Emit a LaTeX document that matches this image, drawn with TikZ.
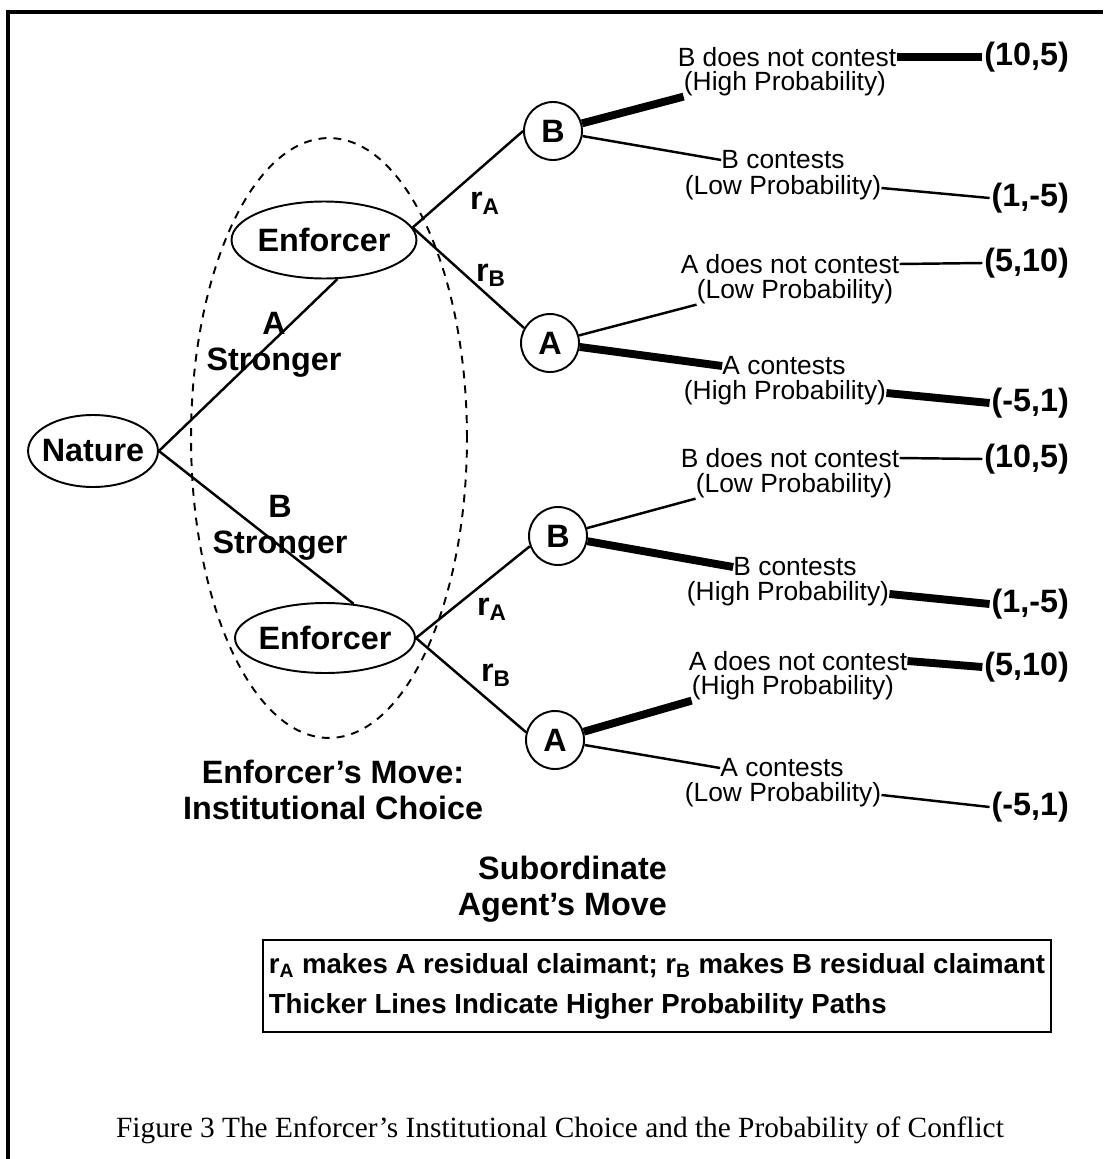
\documentclass[tikz,border=0pt]{standalone}
\usepackage{fontspec}
\setmainfont{Liberation Serif}
\setsansfont{Liberation Sans}
\usetikzlibrary{shapes.geometric}

\begin{document}
\begin{tikzpicture}[x=0.02cm, y=-0.02cm,
  every node/.style={font=\sffamily\bfseries\fontsize{18.4}{20.5}\selectfont},
  player/.style={draw, ellipse, line width=1.1pt, inner xsep=-3pt, inner ysep=0pt},
  agent/.style={draw, circle, line width=1.1pt, minimum size=1.16cm, inner sep=0pt},
  lab/.style={font=\sffamily\mdseries\fontsize{15}{17}\selectfont, inner sep=0pt},
  pay/.style={anchor=east, inner sep=1pt},
  edge/.style={line width=1.4pt},
  hi/.style={line width=4.5pt},
  lo/.style={line width=1.4pt}]
\useasboundingbox (0,0) rectangle (1103,1159);
\draw[line width=2.3pt] (8,1159) -- (8,12) -- (1103,12);

% the enforcer's information set
\draw[line width=1.1pt, dash pattern=on 4.5pt off 4pt] (329,438) ellipse [x radius=2.76cm, y radius=6cm];

\node[player, minimum width=2.54cm, minimum height=1.44cm] (nat) at (93,451) {Nature};
\node[player, minimum width=3.7cm, minimum height=1.54cm] (enfA) at (324,240) {Enforcer};
\node[player, minimum width=3.6cm, minimum height=1.4cm] (enfB) at (325,638) {Enforcer};
\draw[edge] (nat.east) -- (enfA.-71);
\draw[edge] (nat.east) -- (enfB.50);
\node[align=center] (strA) at (274,345) {A\\Stronger};
\node[align=center] (strB) at (280,528) {B\\Stronger};

% subordinate agents
\node[agent] (s1) at (553,131) {B};
\node[agent] (s2) at (550,343) {A};
\node[agent] (s3) at (558,536) {B};
\node[agent] (s4) at (555,740) {A};
\draw[edge] (enfA.8) -- (s1.west);
\draw[edge] (enfA.8) -- (s2.150);
\draw[edge] (enfB.east) -- (s3.200);
\draw[edge] (enfB.east) -- (s4.165);
\node (ra1) at (485,203) {r\textsubscript{A}};
\node (rb1) at (491,275) {r\textsubscript{B}};
\node (ra2) at (492,609) {r\textsubscript{A}};
\node (rb2) at (496,675) {r\textsubscript{B}};

% B, A stronger: r_A
\node[lab] (s1u1) at (787,57) {B does not contest};
\node[lab] (s1u2) at (785,84) {(High Probability)};
\node[lab] (s1d1) at (783,160) {B contests};
\node[lab] (s1d2) at (783,188) {(Low Probability)};
\node[pay] (s1pu) at (1071,57) {(10,5)};
\node[pay] (s1pd) at (1071,198) {(1,-5)};
\draw[hi] (s1) -- (s1u2.south west);
\draw[lo] (s1) -- (s1d1.west);
\draw[hi] (s1u1.east) -- (s1pu.west);
\draw[lo] (s1d2.east) -- (s1pd.west);

% A, A stronger: r_B
\node[lab] (s2u1) at (790,264) {A does not contest};
\node[lab] (s2u2) at (795,292) {(Low Probability)};
\node[lab] (s2d1) at (784,366) {A contests};
\node[lab] (s2d2) at (785,393) {(High Probability)};
\node[pay] (s2pu) at (1071,263) {(5,10)};
\node[pay] (s2pd) at (1071,403) {(-5,1)};
\draw[lo] (s2) -- (s2u2.south west);
\draw[hi] (s2) -- (s2d1.west);
\draw[lo] (s2u1.east) -- (s2pu.west);
\draw[hi] (s2d2.east) -- (s2pd.west);

% B, B stronger: r_A
\node[lab] (s3u1) at (790,458) {B does not contest};
\node[lab] (s3u2) at (794,486) {(Low Probability)};
\node[lab] (s3d1) at (795,567) {B contests};
\node[lab] (s3d2) at (788,594) {(High Probability)};
\node[pay] (s3pu) at (1071,459) {(10,5)};
\node[pay] (s3pd) at (1071,604) {(1,-5)};
\draw[lo] (s3) -- (s3u2.south west);
\draw[hi] (s3) -- (s3d1.west);
\draw[lo] (s3u1.east) -- (s3pu.west);
\draw[hi] (s3d2.east) -- (s3pd.west);

% A, B stronger: r_B
\node[lab] (s4u1) at (798,661) {A does not contest};
\node[lab] (s4u2) at (793,688) {(High Probability)};
\node[lab] (s4d1) at (782,768) {A contests};
\node[lab] (s4d2) at (783,795) {(Low Probability)};
\node[pay] (s4pu) at (1071,667) {(5,10)};
\node[pay] (s4pd) at (1071,807) {(-5,1)};
\draw[hi] (s4) -- (s4u2.south west);
\draw[lo] (s4) -- (s4d1.west);
\draw[hi] (s4u1.east) -- (s4pu.west);
\draw[lo] (s4d2.east) -- (s4pd.west);

\node[align=center] (enfmove) at (333,790) {Enforcer’s Move:\\Institutional Choice};
\node[align=right, anchor=east] (submove) at (673,889) {Subordinate\\Agent’s Move};
\node[draw, line width=1.1pt, align=left, minimum width=15.7cm, minimum height=1.84cm,
  font=\sffamily\bfseries\fontsize{15.7}{22.7}\selectfont] (key) at (657,986)
  {r\textsubscript{A} makes A residual claimant; r\textsubscript{B} makes B residual claimant\\
   Thicker Lines Indicate Higher Probability Paths};
\node[font=\rmfamily\mdseries\fontsize{16.7}{19}\selectfont] (cap) at (560,1130)
  {Figure 3 The Enforcer’s Institutional Choice and the Probability of Conflict};
\end{tikzpicture}
\end{document}
